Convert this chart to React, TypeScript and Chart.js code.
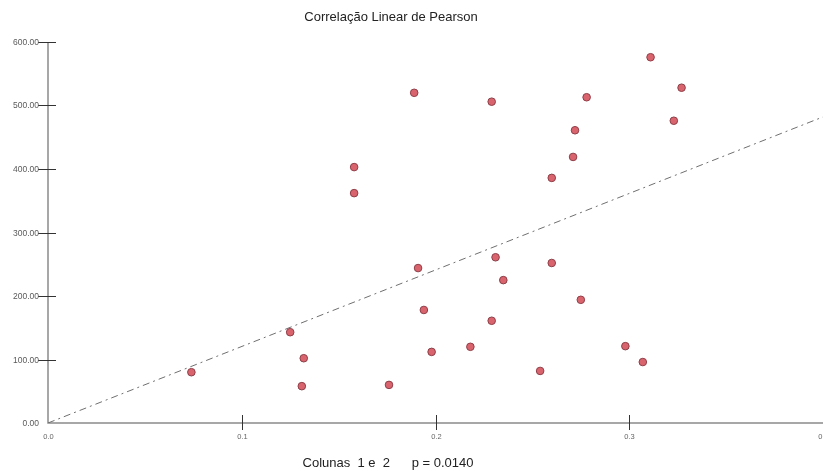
import React, { useEffect, useRef } from "react";
import { Chart, registerables } from "chart.js";

Chart.register(...registerables);

const TITLE = "Correlação Linear de Pearson";
const FOOTER = "Colunas  1 e  2      p = 0.0140";

const xValues = [
  0.074, 0.125, 0.132, 0.131, 0.158, 0.158, 0.176, 0.189, 0.191, 0.194,
  0.198, 0.218, 0.229, 0.231, 0.229, 0.235, 0.254, 0.26, 0.26, 0.271,
  0.272, 0.275, 0.278, 0.298, 0.307, 0.311, 0.323, 0.327,
];
const yValues = [
  80, 143, 102, 58, 362, 403, 60, 520, 244, 178,
  112, 120, 506, 261, 161, 225, 82, 252, 386, 419,
  461, 194, 513, 121, 96, 576, 476, 528,
];
const regressionX = [0, 0.4];
const regressionY = [0, 482];
const xMin = 0;
const xMax = 0.4;
const xStep = 0.1;
const yMin = 0;
const yMax = 600;
const yStep = 100;

const axesPlugin = {
  id: "customAxes",
  beforeDatasetsDraw(chart: any) {
    const ctx = chart.ctx;
    const xs = chart.scales.x;
    const ys = chart.scales.y;
    const x0 = xs.getPixelForValue(xMin);
    const y0 = ys.getPixelForValue(yMin);
    const yTop = ys.getPixelForValue(yMax);
    const xRight = xs.getPixelForValue(xMax);
    ctx.save();
    ctx.strokeStyle = "#8a8a8a";
    ctx.lineWidth = 1.5;
    ctx.beginPath();
    ctx.moveTo(x0, yTop);
    ctx.lineTo(x0, y0);
    ctx.lineTo(xRight + 2, y0);
    ctx.stroke();
    ctx.strokeStyle = "#333";
    ctx.lineWidth = 1;
    ctx.font = "8.5px 'Liberation Sans', Arial, sans-serif";
    ctx.fillStyle = "#5a5a5a";
    ctx.textAlign = "right";
    ctx.textBaseline = "middle";
    ys.ticks.forEach((t: any) => {
      const py = Math.round(ys.getPixelForValue(t.value)) + 0.5;
      if (t.value !== yMin) {
        ctx.beginPath();
        ctx.moveTo(x0 - 10, py);
        ctx.lineTo(x0 + 8, py);
        ctx.stroke();
      }
      ctx.fillText(t.value.toFixed(2), x0 - 9, py);
    });
    ctx.textAlign = "center";
    ctx.textBaseline = "middle";
    ctx.font = "7.5px 'Liberation Sans', Arial, sans-serif";
    ctx.fillStyle = "#666";
    xs.ticks.forEach((t: any) => {
      const px = Math.round(xs.getPixelForValue(t.value)) + 0.5;
      if (t.value !== xMin && t.value !== xMax) {
        ctx.beginPath();
        ctx.moveTo(px, y0 - 8);
        ctx.lineTo(px, y0 + 7);
        ctx.stroke();
      }
      ctx.fillText(t.value.toFixed(1), px, y0 + 14);
    });
    ctx.restore();
  },
  afterDraw(chart: any) {
    const ctx = chart.ctx;
    ctx.save();
    ctx.fillStyle = "#222";
    ctx.font = "13px 'Liberation Sans', Arial, sans-serif";
    ctx.textAlign = "center";
    ctx.textBaseline = "middle";
    ctx.fillText(TITLE, 391, 17);
    ctx.fillText(FOOTER, 388, 463);
    ctx.restore();
  },
};

export default function App() {
  const ref = useRef<HTMLCanvasElement | null>(null);
  useEffect(() => {
    if (!ref.current) return;
    const points = xValues.map((x, i) => ({ x, y: yValues[i] }));
    const line = regressionX.map((x, i) => ({ x, y: regressionY[i] }));
    const chart = new Chart(ref.current, {
      type: "scatter",
      data: {
        datasets: [
          {
            data: points,
            pointRadius: 3.8,
            pointBackgroundColor: "#d9646e",
            pointBorderColor: "#8e3e47",
            pointBorderWidth: 1,
            order: 0,
          },
          {
            data: line,
            showLine: true,
            pointRadius: 0,
            borderColor: "#6f6f6f",
            borderWidth: 1,
            borderDash: [7, 4, 2, 4],
            order: 1,
          } as any,
        ],
      },
      options: {
        animation: false,
        responsive: false,
        maintainAspectRatio: false,
        layout: { autoPadding: false, padding: { top: 42, right: 0, left: 0, bottom: 0 } },
        plugins: {
          legend: { display: false },
          title: { display: false },
          tooltip: { enabled: false },
        },
        scales: {
          x: {
            type: "linear",
            min: xMin,
            max: xMax,
            ticks: { display: false, stepSize: xStep },
            grid: { display: false },
            border: { display: false },
            afterFit: (s: any) => {
              s.height = 48;
            },
          },
          y: {
            type: "linear",
            min: yMin,
            max: yMax,
            ticks: { display: false, stepSize: yStep },
            grid: { display: false },
            border: { display: false },
            afterFit: (s: any) => {
              s.width = 48;
            },
          },
        },
      },
      plugins: [axesPlugin],
    });
    return () => chart.destroy();
  }, []);
  return (
    <div style={{ position: "fixed", left: 0, top: 0, width: 823, height: 471, background: "#fff" }}>
      <canvas ref={ref} width={823} height={471} style={{ display: "block" }} />
    </div>
  );
}
